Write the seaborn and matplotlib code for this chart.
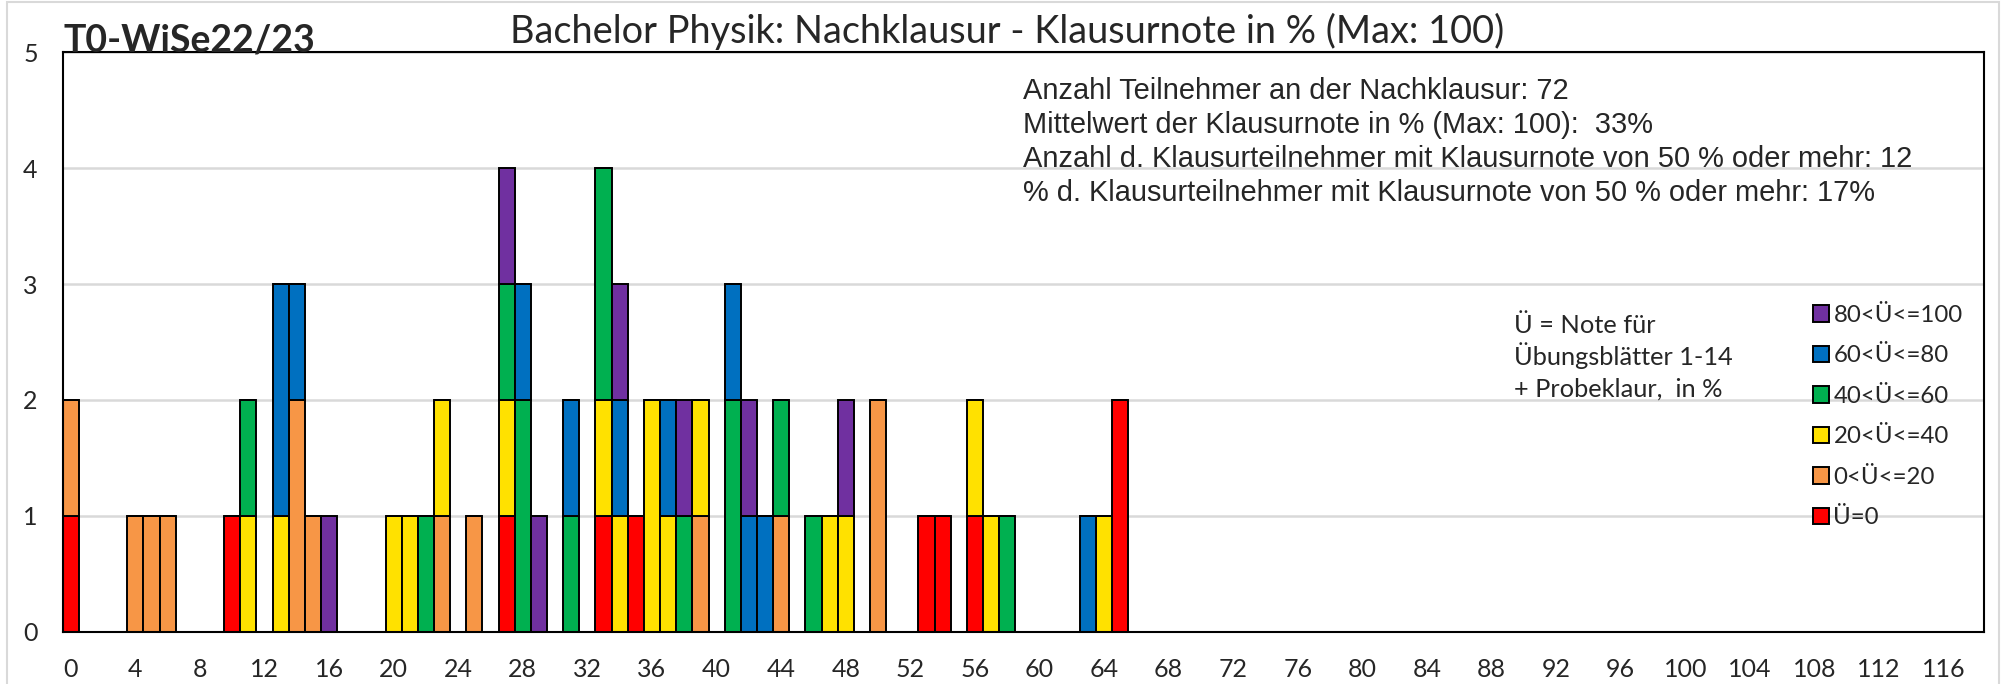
import numpy as np
import pandas as pd
import matplotlib
matplotlib.use("Agg")
import matplotlib.pyplot as plt
from matplotlib.patches import Rectangle
import seaborn as sns

# Klausurnote in % of each participant, grouped by the exercise grade Ü
scores_u0 = [0, 10, 27, 33, 35, 53, 54, 56, 65, 65]
scores_u0_20 = [0, 4, 5, 6, 14, 14, 15, 23, 25, 39, 44, 50, 50]
scores_u20_40 = [11, 13, 20, 21, 23, 27, 33, 34, 36, 36, 37, 39, 47, 48, 56, 57, 64]
scores_u40_60 = [11, 22, 27, 28, 28, 31, 33, 33, 38, 41, 41, 44, 46, 58]
scores_u60_80 = [13, 13, 14, 28, 31, 34, 37, 41, 42, 43, 63]
scores_u80_100 = [16, 27, 29, 34, 38, 42, 48]

groups = ["80<Ü<=100", "60<Ü<=80", "40<Ü<=60", "20<Ü<=40", "0<Ü<=20", "Ü=0"]
colors = ["#7030A0", "#0070C0", "#00B050", "#FFE100", "#F79646", "#FF0000"]

x_ticks = list(range(0, 117, 4))
y_ticks = [0, 1, 2, 3, 4, 5]

stats_lines = [
    "Anzahl Teilnehmer an der Nachklausur: 72",
    "Mittelwert der Klausurnote in % (Max: 100):  33%",
    "Anzahl d. Klausurteilnehmer mit Klausurnote von 50 % oder mehr: 12",
    "% d. Klausurteilnehmer mit Klausurnote von 50 % oder mehr: 17%",
]
note_lines = ["Ü = Note für", "Übungsblätter 1-14", "+ Probeklaur,  in %"]

all_scores = [scores_u80_100, scores_u60_80, scores_u40_60,
              scores_u20_40, scores_u0_20, scores_u0]
df = pd.DataFrame({
    "note": np.concatenate(all_scores),
    "gruppe": np.repeat(groups, [len(s) for s in all_scores]),
})

sns.set_style("white")
plt.rcParams["font.family"] = ["Lato", "DejaVu Sans"]

W, H = 2007, 684
fig = plt.figure(figsize=(W / 100, H / 100), dpi=100)
ax = fig.add_axes([62.7 / W, 1 - 631.7 / H, (1984 - 62.7) / W, (631.7 - 52.3) / H])

sns.histplot(data=df, x="note", hue="gruppe", hue_order=groups,
             palette=dict(zip(groups, colors)), multiple="stack",
             discrete=True, shrink=1, alpha=1, edgecolor="black",
             linewidth=1.4, ax=ax)

ax.set_xlim(-0.5, 118.5)
ax.set_ylim(0, 5)
ax.set_xticks(x_ticks)
ax.set_yticks(y_ticks)
ax.set_xlabel("")
ax.set_ylabel("")
ax.set_axisbelow(True)
ax.yaxis.grid(True, color="#D9D9D9", linewidth=1.8)
ax.xaxis.grid(False)
for s in ax.spines.values():
    s.set_color("black")
    s.set_linewidth(1.5)
ax.tick_params(axis="x", length=0, pad=19, labelsize=18)
ax.tick_params(axis="y", length=0, pad=18, labelsize=18)

sns.move_legend(ax, "upper left", bbox_to_anchor=(1813 / W, 1 - 305 / H),
                bbox_transform=fig.transFigure, frameon=False, title="",
                fontsize=17.3, handlelength=0.68, handleheight=0.68,
                handletextpad=0.17, labelspacing=0.81, borderpad=0,
                borderaxespad=0)

# titles
fig.text(1007 / W, 1 - 43 / H, "Bachelor Physik: Nachklausur - Klausurnote in % (Max: 100)",
         ha="center", va="baseline", fontsize=27.3)
fig.text(64 / W, 1 - 51 / H, "T0-WiSe22/23", ha="left", va="baseline",
         fontsize=27, fontweight="bold")

# statistics box
for i, line in enumerate(stats_lines):
    fig.text(1022.7 / W, 1 - (99.3 + 33.8 * i) / H, line, ha="left",
             va="baseline", fontsize=20.9, family="Liberation Sans")

for i, line in enumerate(note_lines):
    fig.text(1514 / W, 1 - (333 + 31.8 * i) / H, line, ha="left",
             va="baseline", fontsize=18.3)

# light grey chart border
fig.patches.append(Rectangle((7 / W, -0.01), (1999 - 7) / W, 1.01 - 1.5 / H,
                             transform=fig.transFigure, fill=False,
                             edgecolor="#D9D9D9", linewidth=1.5))

fig.savefig("out.png", dpi=100)
